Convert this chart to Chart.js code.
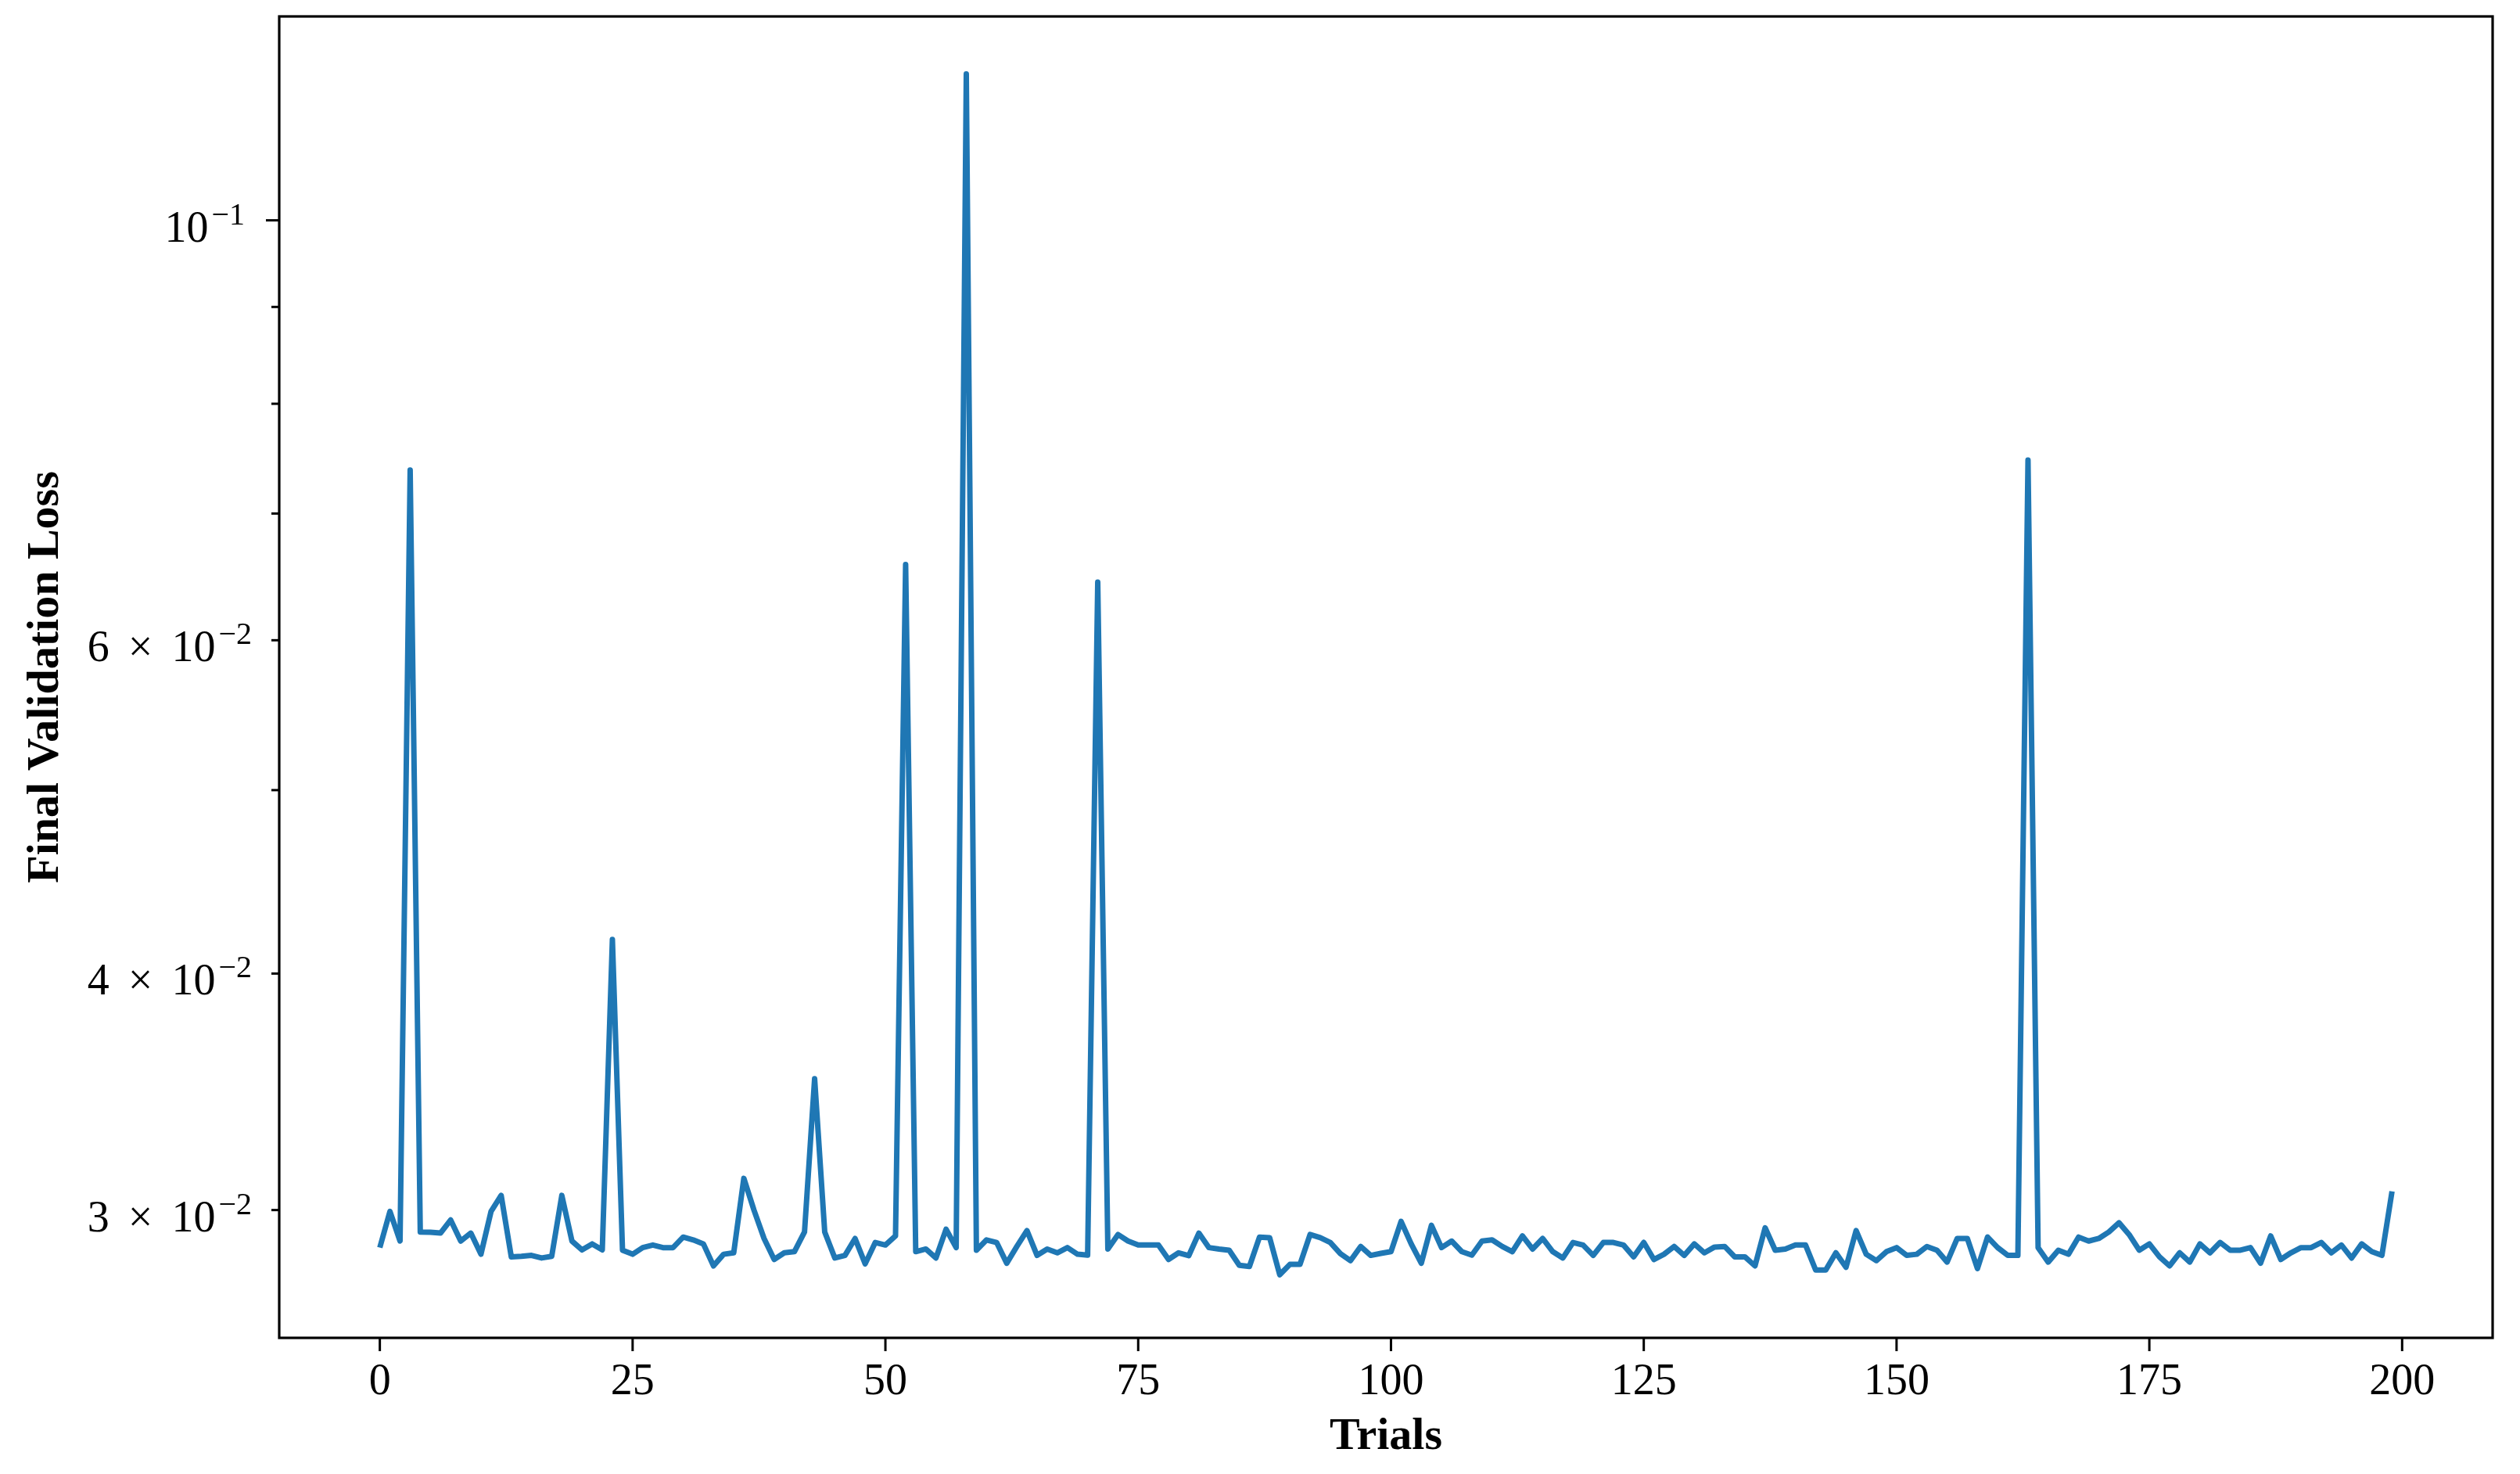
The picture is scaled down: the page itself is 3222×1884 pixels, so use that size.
<!DOCTYPE html>
<html><head><meta charset="utf-8">
<script src="https://cdn.jsdelivr.net/npm/chart.js@4.4.1/dist/chart.umd.min.js"></script>
<style>html,body{margin:0;padding:0;background:#fff;}canvas{display:block;}</style>
</head><body>
<canvas id="c" width="3222" height="1884"></canvas>
<script>
// Final validation loss per trial (index = trial number)
const finalValidationLoss = [
  0.02866,0.02995,0.02889,0.0738,0.02921,0.02920,0.02917,0.02964,0.02889,0.02917,
  0.02843,0.02995,0.03054,0.02834,0.02836,0.02839,0.02830,0.02836,0.03054,0.02889,
  0.02858,0.02879,0.02858,0.0417,0.02857,0.02843,0.02866,0.02875,0.02866,0.02866,
  0.02903,0.02893,0.02879,0.02803,0.02843,0.02848,0.03118,0.03000,0.02898,0.02825,
  0.02848,0.02852,0.02921,0.0352,0.02921,0.02830,0.02839,0.02898,0.02810,0.02884,
  0.02875,0.02907,0.0658,0.02852,0.02861,0.02830,0.02931,0.02866,0.1195,0.02857,
  0.02893,0.02884,0.02812,0.02870,0.02926,0.02839,0.02861,0.02848,0.02866,0.02843,
  0.02840,0.0644,0.02861,0.02912,0.02889,0.02875,0.02875,0.02875,0.02825,0.02848,
  0.02838,0.02917,0.02866,0.02861,0.02857,0.02805,0.02801,0.02903,0.02901,0.02773,
  0.02808,0.02808,0.02912,0.02901,0.02884,0.02845,0.02821,0.02870,0.02839,0.02846,
  0.02852,0.02959,0.02879,0.02812,0.02945,0.02866,0.02889,0.02852,0.02840,0.02889,
  0.02893,0.02870,0.02852,0.02907,0.02861,0.02898,0.02852,0.02830,0.02884,0.02875,
  0.02839,0.02884,0.02884,0.02875,0.02834,0.02884,0.02825,0.02843,0.02870,0.02839,
  0.02879,0.02848,0.02868,0.02870,0.02834,0.02834,0.02803,0.02936,0.02857,0.02861,
  0.02875,0.02875,0.02789,0.02789,0.02848,0.02798,0.02926,0.02843,0.02821,0.02852,
  0.02866,0.02839,0.02843,0.02870,0.02857,0.02816,0.02898,0.02898,0.02794,0.02903,
  0.02866,0.02839,0.02839,0.0747,0.02866,0.02816,0.02857,0.02843,0.02903,0.02889,
  0.02898,0.02921,0.02954,0.02912,0.02857,0.02879,0.02834,0.02803,0.02848,0.02816,
  0.02879,0.02848,0.02884,0.02857,0.02857,0.02866,0.02812,0.02907,0.02825,0.02848,
  0.02866,0.02866,0.02884,0.02848,0.02875,0.02830,0.02879,0.02852,0.02839,0.03069
];
const xTickValues = [0,25,50,75,100,125,150,175,200];
const xTickLabels = ['0','25','50','75','100','125','150','175','200'];
const yTickMarks = [0.03,0.04,0.05,0.06,0.07,0.08,0.09,0.1];
const yMajorTicks = [0.1];
const yLabelValues = [0.03,0.04,0.06,0.1];
const yLabelMantissa = ['3','4','6',''];
const yLabelExponent = ['\u22122','\u22122','\u22122','\u22121'];
const xTitle = 'Trials';
const yTitle = 'Final Validation Loss';

const SERIF = '"Liberation Serif", "DejaVu Serif", serif';

const decor = {
  id: 'decor',
  beforeDraw(chart) {
    const c = chart.ctx;
    c.save(); c.fillStyle = '#fff'; c.fillRect(0,0,chart.width,chart.height); c.restore();
  },
  afterDraw(chart) {
    const c = chart.ctx, a = chart.chartArea;
    const xs = chart.scales.x, ys = chart.scales.y;
    c.save();
    // frame
    c.strokeStyle = '#000'; c.lineWidth = 3.2;
    c.strokeRect(a.left, a.top, a.right - a.left, a.bottom - a.top);
    // x ticks + labels
    c.lineWidth = 3;
    c.fillStyle = '#000';
    c.font = '56px ' + SERIF;
    c.textAlign = 'center'; c.textBaseline = 'alphabetic';
    xTickValues.forEach((v, i) => {
      const px = xs.getPixelForValue(v);
      c.beginPath(); c.moveTo(px, a.bottom); c.lineTo(px, a.bottom + 17); c.stroke();
      c.fillText(xTickLabels[i], px, a.bottom + 72);
    });
    // y ticks
    yTickMarks.forEach(v => {
      const py = ys.getPixelForValue(v);
      const len = yMajorTicks.includes(v) ? 17 : 10;
      c.beginPath(); c.moveTo(a.left, py); c.lineTo(a.left - len, py); c.stroke();
    });
    // y labels
    const mainFont = '56px ' + SERIF, supFont = '40px ' + SERIF;
    yLabelValues.forEach((v, i) => {
      const py = ys.getPixelForValue(v);
      const major = yMajorTicks.includes(v);
      const right = a.left - (major ? 44 : 35);
      const baseY = py + 27;
      c.font = supFont; const wSup = c.measureText(yLabelExponent[i]).width;
      c.font = mainFont;
      const gap = 24;
      const w10 = c.measureText('10').width;
      let parts = [];
      let total = w10 + 4 + wSup;
      let wm = 0, wx = 0;
      if (yLabelMantissa[i]) {
        wm = c.measureText(yLabelMantissa[i]).width;
        wx = c.measureText('\u00d7').width;
        total += wm + gap + wx + gap;
      }
      let x = right - total;
      c.textAlign = 'left'; c.textBaseline = 'alphabetic';
      if (yLabelMantissa[i]) {
        c.fillText(yLabelMantissa[i], x, baseY); x += wm + gap;
        c.fillText('\u00d7', x, baseY); x += wx + gap;
      }
      c.fillText('10', x, baseY); x += w10 + 4;
      c.font = supFont;
      c.fillText(yLabelExponent[i], x, baseY - 22);
    });
    // axis titles
    c.font = 'bold 58px ' + SERIF;
    c.textAlign = 'center'; c.textBaseline = 'alphabetic';
    c.fillText(xTitle, (a.left + a.right) / 2, 1852);
    c.translate(74, (a.top + a.bottom) / 2);
    c.rotate(-Math.PI / 2);
    c.fillText(yTitle, 0, 0);
    c.restore();
  }
};

const points = finalValidationLoss.map((v, i) => ({x: i, y: v}));

new Chart(document.getElementById('c').getContext('2d'), {
  type: 'line',
  data: { datasets: [{
    data: points,
    borderColor: '#1f77b4',
    borderWidth: 7,
    pointRadius: 0,
    tension: 0,
    fill: false,
    borderJoinStyle: 'round',
    borderCapStyle: 'butt'
  }]},
  options: {
    responsive: false,
    animation: false,
    devicePixelRatio: 1,
    layout: { padding: { left: 357, right: 35, top: 21, bottom: 174 } },
    plugins: { legend: { display: false }, tooltip: { enabled: false }, title: { display: false } },
    scales: {
      x: { type: 'linear', display: false, min: -9.95, max: 208.95 },
      y: { type: 'logarithmic', display: false, min: 0.02568, max: 0.12815 }
    }
  },
  plugins: [decor]
});
</script>
</body></html>
